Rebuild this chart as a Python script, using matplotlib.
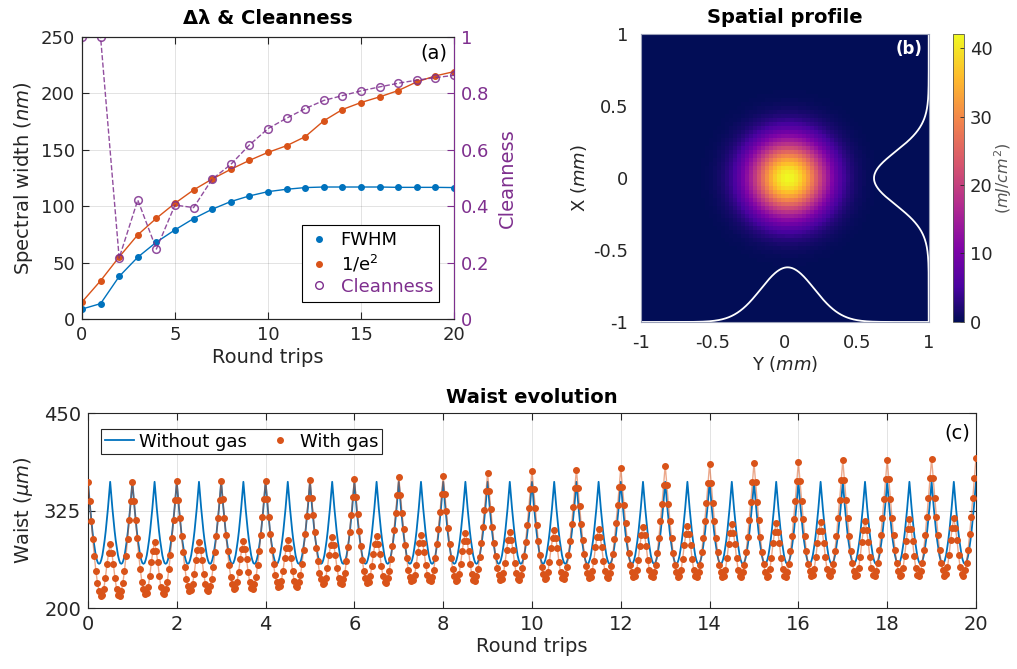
import numpy as np
import matplotlib
matplotlib.use("Agg")
import matplotlib.pyplot as plt
from matplotlib.colors import LinearSegmentedColormap
from matplotlib.lines import Line2D

# ---- (a) spectral width & cleanness vs round trips
round_trips = np.arange(21)
fwhm = [8.8, 13.6, 37.7, 54.8, 68.1, 79.0, 89.0, 97.3, 104.1, 109.1, 112.9,
        115.0, 116.5, 117.0, 117.0, 117.0, 117.0, 116.7, 116.7, 116.7, 116.5]
inv_e2 = [15.0, 33.9, 55.0, 74.6, 89.3, 102.6, 114.4, 124.1, 132.7, 140.6, 147.7,
          153.6, 161.6, 175.7, 185.7, 191.9, 196.9, 202.5, 210.2, 215.5, 219.3]
cleanness = [1.0, 1.0, 0.216, 0.422, 0.248, 0.404, 0.395, 0.496, 0.548, 0.617, 0.675,
             0.712, 0.746, 0.775, 0.792, 0.809, 0.823, 0.836, 0.847, 0.856, 0.864]

# ---- (b) spatial profile (gaussian spot)
beam_peak = 42.0       # mJ/cm^2
beam_x0, beam_y0 = 0.02, 0.0   # mm
beam_sigma = 0.185     # mm
lineout_sigma = 0.185  # mm
lineout_height = 0.38  # mm on the plot
grid_n = 72

# ---- (c) waist evolution
# without gas: one half-period (phase 0 -> 0.25 RT, step 0.025)
nogas_half = [362, 345, 328, 313, 299, 287, 277, 268, 262, 258, 257]
# with gas: main peak at each integer RT, secondary peak at RT+0.5, minima in between
gas_peak = [361.5, 362.3, 362.8, 362.8, 363.6, 364.5, 365.4, 368.0, 369.6, 373.0, 376.4,
            377.7, 379.5, 382.8, 384.6, 385.9, 387.6, 389.3, 390.5, 391.8, 393.0]
gas_second = [282, 285, 285, 286, 287, 291, 292.7, 294.4, 297, 298.2,
              300.8, 302, 304.6, 306, 308.5, 309.7, 310.6, 312.3, 314, 315.8]
gas_min = [216, 218, 222.6, 225, 227, 231, 232.9, 234.6, 235.4, 236.3,
           237.2, 239, 239.7, 239.7, 240, 240.5, 241, 241.4, 241.4, 242]
# shape of one round trip (28 samples): which lobe each sample belongs to, and
# its relative height within that lobe
gas_lobe = ["this"] * 9 + ["second"] * 11 + ["next"] * 8
gas_frac = [1.0, 0.83, 0.66, 0.50, 0.35, 0.22, 0.11, 0.045, 0.0,
            0.02, 0.14, 0.35, 0.62, 0.83, 1.0, 0.83, 0.62, 0.35, 0.14, 0.02,
            0.0, 0.045, 0.11, 0.22, 0.35, 0.50, 0.66, 0.83]

BLUE = "#0072BD"
ORANGE = "#D95319"
PURPLE = "#7E2F8E"
DARK = "#262626"

plt.rcParams.update({
    "font.family": "DejaVu Sans",
    "font.size": 13,
    "axes.edgecolor": DARK,
    "axes.labelcolor": DARK,
    "xtick.color": DARK,
    "ytick.color": DARK,
    "axes.linewidth": 0.8,
})


def matlab_axes(ax, right=True):
    ax.tick_params(direction="in", length=5, width=0.8, top=True, right=right,
                   labelsize=13, pad=5)
    ax.grid(True, color=DARK, alpha=0.15, lw=0.6)
    ax.set_axisbelow(True)


fig = plt.figure(figsize=(10.17, 6.69), dpi=100)

# ================= (a)
ax_a = fig.add_axes([0.0806, 0.5232, 0.3658, 0.4215])
ax_a.plot(round_trips, fwhm, "-o", color=BLUE, lw=1.0, ms=4, zorder=3)
ax_a.plot(round_trips, inv_e2, "-o", color=ORANGE, lw=1.0, ms=4, zorder=3)
ax_a.set_xlim(0, 20)
ax_a.set_ylim(0, 250)
ax_a.set_xticks([0, 5, 10, 15, 20])
ax_a.set_yticks([0, 50, 100, 150, 200, 250])
matlab_axes(ax_a, right=False)
ax_a.set_xlabel("Round trips", fontsize=14, labelpad=3)
ax_a.set_ylabel("Spectral width $(nm)$", fontsize=14, labelpad=4)
ax_a.set_title("\u0394\u03bb & Cleanness", fontsize=14, fontweight="bold", pad=9)
ax_a.text(0.981, 0.943, "(a)", transform=ax_a.transAxes, ha="right", va="center",
          fontsize=14, color="black")

ax_r = ax_a.twinx()
ax_r.plot(round_trips, cleanness, "--o", color=PURPLE, lw=1.0, ms=5.5,
          markerfacecolor="none", markeredgewidth=1.1, alpha=0.85)
ax_r.set_ylim(0, 1)
ax_r.set_yticks([0, 0.2, 0.4, 0.6, 0.8, 1])
ax_r.set_yticklabels(["0", "0.2", "0.4", "0.6", "0.8", "1"])
ax_r.tick_params(direction="in", length=5, width=0.8, colors=PURPLE, labelsize=13, pad=5)
ax_r.spines["right"].set_color(PURPLE)
ax_r.set_ylabel("Cleanness", color=PURPLE, fontsize=14, labelpad=6)

handles = [Line2D([], [], ls="none", marker="o", ms=4, color=BLUE),
           Line2D([], [], ls="none", marker="o", ms=4, color=ORANGE),
           Line2D([], [], ls="none", marker="o", ms=5.5, color=PURPLE, markerfacecolor="none")]
leg = ax_r.legend(handles, ["FWHM", "1/e$^2$", "Cleanness"], loc="lower right",
                  bbox_to_anchor=(0.985, 0.028), fontsize=13, frameon=True, fancybox=False,
                  edgecolor="black", framealpha=1, handlelength=1.2, handletextpad=0.6,
                  borderpad=0.35, labelspacing=0.2)
leg.get_frame().set_linewidth(0.8)
leg.get_texts()[2].set_color(PURPLE)

# ================= (b)
ax_b = fig.add_axes([0.630, 0.5187, 0.2832, 0.430])
gx = np.linspace(-1, 1, grid_n)
GX, GY = np.meshgrid(gx, gx)
fluence = beam_peak * np.exp(-((GX - beam_x0) ** 2 + (GY - beam_y0) ** 2) / (2 * beam_sigma ** 2))

navy = "#020d56"
plasma = plt.get_cmap("plasma")
stops = [0.0, 0.12, 0.25, 0.4, 0.55, 0.7, 0.85, 1.0]
colors = [navy] + [plasma(s) for s in stops[1:]]
cmap = LinearSegmentedColormap.from_list("beam", list(zip(stops, colors)))

im = ax_b.imshow(fluence, extent=[-1, 1, -1, 1], origin="lower", cmap=cmap,
                 vmin=0, vmax=beam_peak, aspect="auto", interpolation="nearest")
lx = np.linspace(-1, 1, 400)
ax_b.plot(lx, -1 + lineout_height * np.exp(-(lx - beam_x0) ** 2 / (2 * lineout_sigma ** 2)),
          color="white", lw=1.3)
ax_b.plot(1 - lineout_height * np.exp(-(lx - beam_y0) ** 2 / (2 * lineout_sigma ** 2)), lx,
          color="white", lw=1.3)
ax_b.set_xlim(-1, 1)
ax_b.set_ylim(-1, 1)
ax_b.set_xticks([-1, -0.5, 0, 0.5, 1])
ax_b.set_yticks([-1, -0.5, 0, 0.5, 1])
ax_b.set_xticklabels(["-1", "-0.5", "0", "0.5", "1"])
ax_b.set_yticklabels(["-1", "-0.5", "0", "0.5", "1"])
ax_b.tick_params(length=0, labelsize=13, pad=9)
for sp in ax_b.spines.values():
    sp.set_color("#9aa0b8")
ax_b.set_xlabel("Y $(mm)$", fontsize=13, labelpad=1)
ax_b.set_ylabel("X $(mm)$", fontsize=13, labelpad=3)
ax_b.set_title("Spatial profile", fontsize=14, fontweight="bold", pad=8)
ax_b.text(0.98, 0.95, "(b)", transform=ax_b.transAxes, ha="right", va="center",
          fontsize=12, fontweight="bold", color="white")

cax = fig.add_axes([0.9371, 0.5187, 0.0108, 0.430])
cb = fig.colorbar(im, cax=cax, ticks=[0, 10, 20, 30, 40])
cb.ax.tick_params(direction="in", length=3, width=0.6, labelsize=13, pad=4)
cb.outline.set_edgecolor("#555555")
cb.outline.set_linewidth(0.6)
cb.set_label("$(mJ/cm^2)$", fontsize=11.5, color="#555555", labelpad=0)

# ================= (c)
ax_c = fig.add_axes([0.0865, 0.0907, 0.8732, 0.2919])

nogas_period = nogas_half + nogas_half[-2:0:-1]
nogas_y = nogas_period * 40 + [nogas_half[0]]
nogas_x = np.arange(len(nogas_y)) * 0.025

gas_x, gas_y = [], []
for i in range(20):
    for k, (lobe, frac) in enumerate(zip(gas_lobe, gas_frac)):
        top = {"this": gas_peak[i], "second": gas_second[i], "next": gas_peak[i + 1]}[lobe]
        gas_x.append(i + k / len(gas_frac))
        gas_y.append(gas_min[i] + frac * (top - gas_min[i]))
gas_x.append(20)
gas_y.append(gas_peak[20])

ax_c.plot(nogas_x, nogas_y, color=BLUE, lw=1.3, zorder=2)
ax_c.plot(gas_x, gas_y, color=ORANGE, lw=1.0, alpha=0.5, zorder=3)
ax_c.plot(gas_x, gas_y, ls="none", marker="o", ms=4, color=ORANGE, zorder=4)
ax_c.set_xlim(0, 20)
ax_c.set_ylim(200, 450)
ax_c.set_xticks(np.arange(0, 21, 2))
ax_c.set_yticks([200, 325, 450])
matlab_axes(ax_c)
ax_c.tick_params(labelsize=14)
ax_c.set_xlabel("Round trips", fontsize=14, labelpad=2)
ax_c.set_ylabel("Waist $(\\mu m)$", fontsize=14, labelpad=6)
ax_c.set_title("Waist evolution", fontsize=14, fontweight="bold", pad=7)
ax_c.text(0.993, 0.9, "(c)", transform=ax_c.transAxes, ha="right", va="center",
          fontsize=14, color="black")
handles_c = [Line2D([], [], color=BLUE, lw=1.3),
             Line2D([], [], ls="none", marker="o", ms=4, color=ORANGE)]
leg_c = ax_c.legend(handles_c, ["Without gas", "With gas"], loc="upper left",
                    bbox_to_anchor=(0.005, 0.965), ncol=2, fontsize=13, frameon=True,
                    fancybox=False, edgecolor=DARK, framealpha=1, handlelength=1.6,
                    handletextpad=0.3, columnspacing=1.0, borderpad=0.2)
leg_c.get_frame().set_linewidth(0.8)

fig.savefig("out.png", dpi=100)
